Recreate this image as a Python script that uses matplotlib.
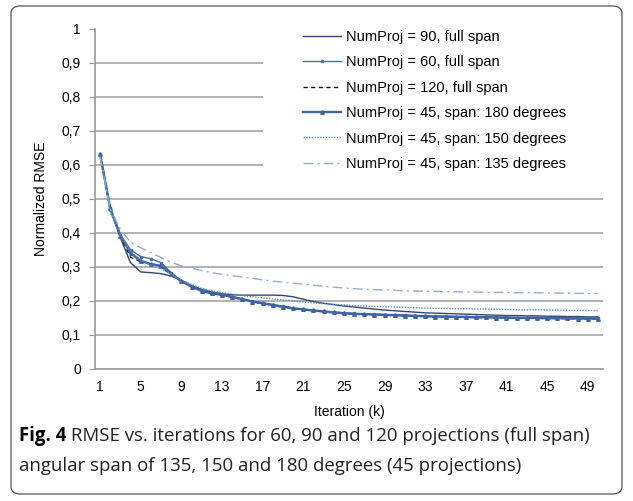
import matplotlib
matplotlib.use("Agg")
import matplotlib.pyplot as plt
from matplotlib.patches import FancyBboxPatch, Rectangle
import numpy as np

iterations = list(range(1, 51))

s90 = [0.631, 0.470, 0.385, 0.312, 0.285, 0.283, 0.280, 0.273, 0.260, 0.245,
       0.234, 0.226, 0.221, 0.218, 0.217, 0.217, 0.217, 0.217, 0.216, 0.212,
       0.205, 0.198, 0.193, 0.189, 0.185, 0.182, 0.179, 0.176, 0.173, 0.171,
       0.169, 0.167, 0.165, 0.164, 0.163, 0.162, 0.161, 0.160, 0.159, 0.158,
       0.157, 0.157, 0.156, 0.156, 0.155, 0.155, 0.154, 0.154, 0.153, 0.153]
s60 = [0.631, 0.473, 0.395, 0.350, 0.330, 0.324, 0.312, 0.283, 0.258, 0.243,
       0.232, 0.224, 0.218, 0.212, 0.206, 0.199, 0.194, 0.189, 0.184, 0.179,
       0.175, 0.172, 0.169, 0.167, 0.165, 0.163, 0.162, 0.161, 0.160, 0.159,
       0.158, 0.157, 0.156, 0.155, 0.155, 0.154, 0.154, 0.153, 0.153, 0.152,
       0.152, 0.151, 0.151, 0.151, 0.150, 0.150, 0.150, 0.149, 0.149, 0.149]
s120 = [0.631, 0.470, 0.390, 0.328, 0.315, 0.310, 0.300, 0.278, 0.257, 0.243,
        0.230, 0.223, 0.217, 0.211, 0.204, 0.197, 0.192, 0.187, 0.182, 0.177,
        0.174, 0.171, 0.168, 0.165, 0.163, 0.161, 0.160, 0.159, 0.158, 0.157,
        0.156, 0.155, 0.154, 0.153, 0.153, 0.152, 0.152, 0.151, 0.151, 0.150,
        0.150, 0.149, 0.149, 0.149, 0.148, 0.148, 0.148, 0.147, 0.147, 0.147]
s180 = [0.631, 0.472, 0.392, 0.340, 0.318, 0.308, 0.303, 0.280, 0.258, 0.242,
        0.229, 0.222, 0.218, 0.212, 0.205, 0.198, 0.193, 0.188, 0.183, 0.178,
        0.175, 0.172, 0.169, 0.166, 0.164, 0.162, 0.161, 0.160, 0.159, 0.158,
        0.157, 0.156, 0.155, 0.154, 0.154, 0.153, 0.153, 0.152, 0.152, 0.151,
        0.151, 0.150, 0.150, 0.150, 0.149, 0.149, 0.149, 0.148, 0.148, 0.148]
s150 = [0.625, 0.460, 0.395, 0.345, 0.320, 0.305, 0.295, 0.278, 0.262, 0.248,
        0.237, 0.229, 0.224, 0.220, 0.216, 0.212, 0.209, 0.206, 0.203, 0.200,
        0.197, 0.194, 0.192, 0.190, 0.188, 0.186, 0.185, 0.184, 0.183, 0.182,
        0.181, 0.180, 0.179, 0.178, 0.178, 0.177, 0.177, 0.176, 0.176, 0.175,
        0.175, 0.174, 0.174, 0.174, 0.173, 0.173, 0.172, 0.172, 0.172, 0.171]
s135 = [0.625, 0.470, 0.410, 0.372, 0.356, 0.342, 0.327, 0.313, 0.303, 0.296,
        0.289, 0.283, 0.278, 0.274, 0.270, 0.266, 0.262, 0.258, 0.255, 0.252,
        0.249, 0.246, 0.243, 0.240, 0.238, 0.236, 0.234, 0.233, 0.232, 0.231,
        0.230, 0.229, 0.228, 0.228, 0.227, 0.227, 0.226, 0.226, 0.225, 0.225,
        0.225, 0.224, 0.224, 0.224, 0.223, 0.223, 0.223, 0.222, 0.222, 0.222]

labels = ["NumProj = 90, full span", "NumProj = 60, full span",
          "NumProj = 120, full span", "NumProj = 45, span: 180 degrees",
          "NumProj = 45, span: 150 degrees", "NumProj = 45, span: 135 degrees"]
xtick_vals = list(range(1, 50, 4))
ytick_vals = [0, 0.1, 0.2, 0.3, 0.4, 0.5, 0.6, 0.7, 0.8, 0.9, 1]
ytick_labels = ["0", "0,1", "0,2", "0,3", "0,4", "0,5", "0,6", "0,7", "0,8", "0,9", "1"]
caption_bold = "Fig. 4"
caption_line1 = " RMSE vs. iterations for 60, 90 and 120 projections (full span)"
caption_line2 = "angular span of 135, 150 and 180 degrees (45 projections)"

plt.rcParams['font.family'] = ['Liberation Sans', 'DejaVu Sans']

W, H = 633, 501
fig = plt.figure(figsize=(W / 100, H / 100), dpi=100)

def fx(px):
    return px / W

def fy(py):
    return 1 - py / H

# rounded frame
frame = FancyBboxPatch((fx(11), fy(494)), 611 / W, 488 / H,
                       boxstyle="round,pad=0,rounding_size=0.015",
                       transform=fig.transFigure, fill=False,
                       edgecolor="#555555", linewidth=0.9)
fig.patches.append(frame)

ax = fig.add_axes([fx(95), fy(369), (603 - 95) / W, (369 - 28.5) / H])

ax.plot(iterations, s90, color="#34466b", lw=1.0, label=labels[0], zorder=3)
ax.plot(iterations, s60, color="#4a6ea8", lw=1.0, marker="s", ms=2.0,
        label=labels[1], zorder=3)
ax.plot(iterations, s120, color="#111111", lw=1.0, ls=(0, (3, 2.5)),
        label=labels[2], zorder=3)
ax.plot(iterations, s180, color="#3d64a3", lw=1.7, marker="^", ms=2.6,
        label=labels[3], zorder=3)
ax.plot(iterations, s150, color="#5b8fd0", lw=1.0, ls=(0, (1, 1)),
        label=labels[4], zorder=3)
ax.plot(iterations, s135, color="#8eaddb", lw=1.0, ls=(0, (7, 3, 1.5, 3)),
        label=labels[5], zorder=3)

ax.set_xlim(0.5, 50.5)
ax.set_ylim(0, 1)
ax.set_xticks(xtick_vals)
ax.set_xticklabels([str(v) for v in xtick_vals], fontsize=10)
ax.set_yticks(ytick_vals)
ax.set_yticklabels(ytick_labels, fontsize=10)
ax.tick_params(axis="x", length=0, pad=8)
ax.tick_params(axis="y", length=4, color="#999999", pad=6, direction="out")

for v in ytick_vals[1:-1]:
    ax.axhline(v, color="#a6a6a6", lw=1.2, zorder=1)

for s in ["top", "right"]:
    ax.spines[s].set_visible(False)
for s in ["left", "bottom"]:
    ax.spines[s].set_color("#999999")
    ax.spines[s].set_linewidth(1.2)

ax.set_xlabel("Iteration (k)", fontsize=10, labelpad=8)
ax.set_ylabel("Normalized RMSE", fontsize=10, labelpad=10)

# white legend area covering gridlines
bg = Rectangle((fx(263), fy(184)), (608 - 263) / W, (184 - 25) / H,
               transform=fig.transFigure, facecolor="white", edgecolor="none")
bg.set_zorder(1)
fig.patches.append(bg)

leg = fig.legend(*ax.get_legend_handles_labels(), loc="upper left",
                 bbox_to_anchor=(fx(303), fy(30)), frameon=False,
                 fontsize=10.5, handlelength=2.6, handletextpad=0.35,
                 labelspacing=0.78, borderpad=0, borderaxespad=0)

# caption
cap_font = ['Open Sans', 'DejaVu Sans']
cap_size = 13.4
t_bold = fig.text(fx(19), fy(436), caption_bold, fontsize=cap_size,
                  fontweight="bold", family=cap_font, va="center", ha="left")
fig.canvas.draw()
bb = t_bold.get_window_extent(renderer=fig.canvas.get_renderer())
fig.text(bb.x1 / W, fy(436), caption_line1, fontsize=cap_size,
         family=cap_font, va="center", ha="left", color="#222222")
fig.text(fx(19), fy(466), caption_line2, fontsize=cap_size,
         family=cap_font, va="center", ha="left", color="#222222")

fig.savefig("out.png", dpi=100)
